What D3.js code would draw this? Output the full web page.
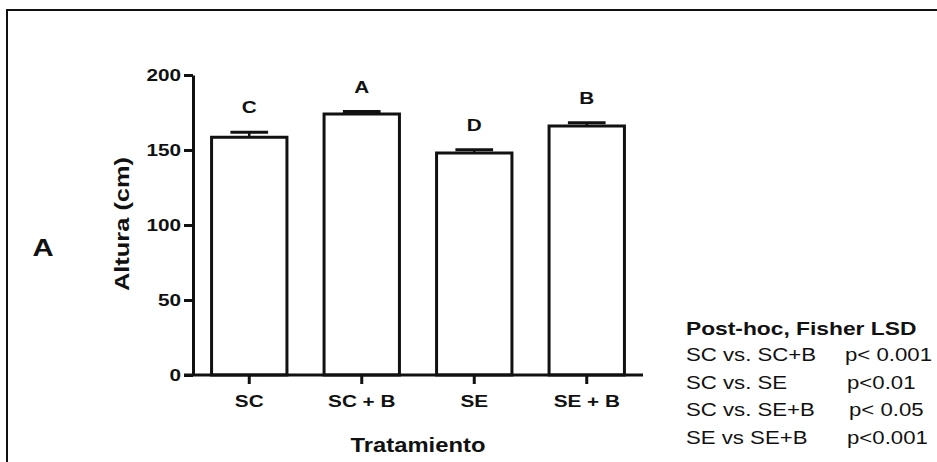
<!DOCTYPE html>
<html>
<head>
<meta charset="utf-8">
<script src="https://cdn.jsdelivr.net/npm/d3@7"></script>
<style>
  html, body { margin: 0; padding: 0; background: #fff; }
  svg { display: block; }
  text { font-family: "Liberation Sans", Arial, sans-serif; fill: #111; }
</style>
</head>
<body>
<svg id="chart" width="937" height="462"></svg>
<script>
// Plant height by treatment (mean ± SE), with Fisher LSD grouping letters
const treatments = ["SC", "SC + B", "SE", "SE + B"];
const meanHeight = [158.5, 174.0, 148.0, 166.0];
const stdError = [3.3, 1.6, 2.2, 2.2];
const groupLetters = ["C", "A", "D", "B"];
const yTicks = [0, 50, 100, 150, 200];

const comparisons = ["SC vs. SC+B", "SC vs. SE", "SC vs. SE+B", "SE vs SE+B"];
const pValues = ["p< 0.001", "p<0.01", "p< 0.05", "p<0.001"];

const svg = d3.select("#chart");
const ink = "#111";

// Panel frame: left and top edges only
svg.append("path")
  .attr("d", "M7,462 V10 H937")
  .attr("fill", "none")
  .attr("stroke", ink)
  .attr("stroke-width", 2);

const x = d3.scaleBand()
  .domain(treatments)
  .range([193, 643])
  .paddingInner(0.33)
  .paddingOuter(0.165);

const y = d3.scaleLinear().domain([0, 200]).range([375, 75]);

// Wide type used throughout the figure
const SX = 1.22;
function wideText(g, tx, ty, str, opts) {
  const o = Object.assign({ size: 17, weight: "bold", anchor: "middle", rotate: 0, sx: SX }, opts || {});
  return g.append("text")
    .attr("transform", `translate(${tx},${ty}) rotate(${o.rotate}) scale(${o.sx},1)`)
    .attr("text-anchor", o.anchor)
    .attr("font-size", o.size)
    .attr("font-weight", o.weight)
    .text(str);
}

// Bars
const plot = svg.append("g");
plot.selectAll("rect.bar")
  .data(treatments)
  .join("rect")
  .attr("class", "bar")
  .attr("x", d => x(d))
  .attr("y", (d, i) => y(meanHeight[i]))
  .attr("width", x.bandwidth())
  .attr("height", (d, i) => y(0) - y(meanHeight[i]))
  .attr("fill", "#fff")
  .attr("stroke", ink)
  .attr("stroke-width", 3);

// Error bars (upper half) and grouping letters
const capW = x.bandwidth() / 2;
treatments.forEach((t, i) => {
  const cx = x(t) + x.bandwidth() / 2;
  const top = y(meanHeight[i] + stdError[i]);
  plot.append("line")
    .attr("x1", cx).attr("x2", cx)
    .attr("y1", y(meanHeight[i])).attr("y2", top)
    .attr("stroke", ink).attr("stroke-width", 2.5);
  plot.append("line")
    .attr("x1", cx - capW / 2).attr("x2", cx + capW / 2)
    .attr("y1", top).attr("y2", top)
    .attr("stroke", ink).attr("stroke-width", 3);
  wideText(plot, cx, top - 19, groupLetters[i], { size: 17 });
});

// Axes
const yAxis = svg.append("g")
  .attr("transform", "translate(193,0)")
  .call(d3.axisLeft(y).tickValues(yTicks).tickSize(9).tickSizeOuter(0));
const xAxis = svg.append("g")
  .attr("transform", "translate(0,375)")
  .call(d3.axisBottom(x).tickSize(9).tickSizeOuter(0));

[yAxis, xAxis].forEach(a => {
  a.select(".domain").attr("stroke", ink).attr("stroke-width", 3);
  a.selectAll(".tick line").attr("stroke", ink).attr("stroke-width", 3);
  a.selectAll(".tick text").remove();
});
// baseline runs left to meet the 0 tick
xAxis.select(".domain").attr("d", "M184,0H643");

yTicks.forEach(v => {
  wideText(svg, 181, y(v) + 6, String(v), { size: 17, anchor: "end" });
});
treatments.forEach(t => {
  wideText(svg, x(t) + x.bandwidth() / 2, 407, t, { size: 17 });
});

// Axis titles
wideText(svg, 418, 452, "Tratamiento", { size: 19.5 });
wideText(svg, 129, 224, "Altura (cm)", { size: 20, rotate: -90, sx: 1.27 });

// Panel letter
wideText(svg, 43, 256, "A", { size: 24 });

// Post-hoc comparisons
wideText(svg, 686, 335, "Post-hoc, Fisher LSD", { size: 19, anchor: "start", sx: 1.2 });
const pX = [845, 847, 849, 847];
comparisons.forEach((c, i) => {
  const by = 361 + i * 27.5;
  wideText(svg, 686, by, c, { size: 18.5, weight: "normal", anchor: "start", sx: 1.2 });
  wideText(svg, pX[i], by, pValues[i], { size: 18.5, weight: "normal", anchor: "start", sx: 1.2 });
});
</script>
</body>
</html>
